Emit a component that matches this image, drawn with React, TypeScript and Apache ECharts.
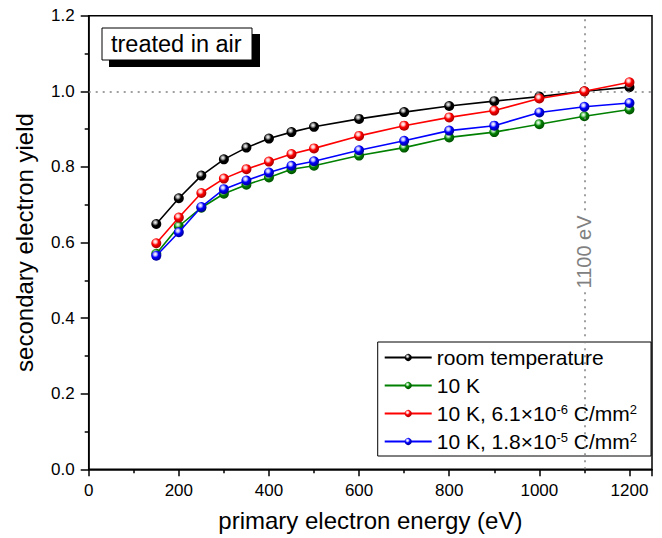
import React, { useEffect, useRef } from "react";
import * as echarts from "echarts";

const energies = [150, 200, 250, 300, 350, 400, 450, 500, 600, 700, 800, 900, 1000, 1100, 1200];
const roomTemp = [0.649, 0.717, 0.777, 0.820, 0.851, 0.875, 0.892, 0.906, 0.927, 0.945, 0.961, 0.974, 0.986, 1.000, 1.011];
const tenK = [0.570, 0.643, 0.692, 0.729, 0.753, 0.772, 0.794, 0.803, 0.830, 0.851, 0.878, 0.892, 0.913, 0.934, 0.952];
const tenKDose1 = [0.598, 0.666, 0.731, 0.769, 0.794, 0.814, 0.834, 0.849, 0.882, 0.909, 0.931, 0.949, 0.981, 1.000, 1.024];
const tenKDose2 = [0.565, 0.627, 0.694, 0.741, 0.764, 0.785, 0.803, 0.815, 0.844, 0.869, 0.896, 0.909, 0.944, 0.959, 0.969];

const seriesNames = ["room temperature", "10 K", "10 K, 6.1×10-6 C/mm2", "10 K, 1.8×10-5 C/mm2"];
const legendRich = [
  "{a|room temperature}",
  "{a|10 K}",
  "{a|10 K, 6.1×10}{s|-6}{a| C/mm}{s|2}",
  "{a|10 K, 1.8×10}{s|-5}{a| C/mm}{s|2}",
];
const seriesColors = ["#000000", "#008000", "#ff0000", "#0000ff"];
const seriesDark = ["#000000", "#005500", "#b00000", "#0000a0"];
const seriesLight = ["#aaaaaa", "#9fe09f", "#ffc0c0", "#c0c0ff"];
const seriesData = [roomTemp, tenK, tenKDose1, tenKDose2];

const FONT = "Liberation Sans, Arial, Helvetica, sans-serif";

export default function App() {
  const ref = useRef<HTMLDivElement>(null);
  useEffect(() => {
    if (!ref.current) return;
    const chart = echarts.init(ref.current, null, { renderer: "svg" });
    const series: any[] = seriesData.map((vals, i) => ({
      name: seriesNames[i],
      type: "line",
      data: energies.map((e, j) => [e, vals[j]]),
      symbol: "circle",
      symbolSize: 10,
      z: 3 + i,
      lineStyle: { color: seriesColors[i], width: 1.6 },
      itemStyle: {
        color: new echarts.graphic.RadialGradient(0.4, 0.35, 0.6, [
          { offset: 0, color: "#ffffff" },
          { offset: 0.25, color: seriesLight[i] },
          { offset: 0.55, color: seriesColors[i] },
          { offset: 1, color: seriesDark[i] },
        ]),
        borderWidth: 0,
      },
      emphasis: { disabled: true },
    }));
    series.push({
      name: "refs",
      type: "line",
      data: [],
      z: 1,
      silent: true,
      markLine: {
        silent: true,
        symbol: "none",
        label: { show: false },
        lineStyle: { color: "#808080", type: [2, 5], width: 1.5 },
        data: [{ yAxis: 1.0 }, { xAxis: 1100 }],
      },
      markPoint: {
        silent: true,
        symbol: "circle",
        symbolSize: 0,
        data: [{ coord: [1100, 0.575] }],
        label: {
          show: true,
          formatter: "1100 eV",
          rotate: 90,
          color: "#808080",
          fontFamily: FONT,
          fontSize: 20,
          backgroundColor: "#ffffff",
          padding: [0, 2],
        },
      },
    });

    chart.setOption({
      animation: false,
      textStyle: { fontFamily: FONT },
      grid: {
        left: 88.7,
        right: 10,
        top: 15.7,
        bottom: 68.7,
        show: true,
        borderColor: "#000",
        borderWidth: 1.5,
      },
      legend: {
        data: seriesNames,
        orient: "vertical",
        right: 11,
        bottom: 82,
        borderColor: "#000",
        borderWidth: 1,
        backgroundColor: "#fff",
        padding: [5, 14, 4, 6],
        itemWidth: 47,
        itemHeight: 9,
        itemGap: 7,
        selectedMode: false,
        textStyle: {
          fontFamily: FONT,
          fontSize: 21,
          color: "#000",
          rich: {
            a: { fontFamily: FONT, fontSize: 21, lineHeight: 21, color: "#000" },
            s: { fontFamily: FONT, fontSize: 13, lineHeight: 13, verticalAlign: "top", color: "#000" },
          },
        },
        formatter: (name: string) => legendRich[seriesNames.indexOf(name)],
      },
      xAxis: {
        type: "value",
        min: 0,
        max: 1250,
        interval: 200,
        name: "primary electron energy (eV)",
        nameLocation: "middle",
        nameGap: 39,
        nameTextStyle: { fontFamily: FONT, fontSize: 24, color: "#000" },
        axisLine: { lineStyle: { color: "#000", width: 1.5 } },
        axisTick: { show: true, inside: false, length: 7, lineStyle: { color: "#000", width: 1.5 } },
        minorTick: { show: true, splitNumber: 2, length: 4, lineStyle: { color: "#000", width: 1.5 } },
        splitLine: { show: false },
        axisLabel: {
          fontFamily: FONT,
          fontSize: 17,
          color: "#000",
          margin: 13,
          formatter: (v: number) => (v % 200 === 0 ? String(v) : ""),
        },
      },
      yAxis: {
        type: "value",
        min: 0,
        max: 1.2,
        interval: 0.2,
        name: "secondary electron yield",
        nameLocation: "middle",
        nameGap: 52,
        nameTextStyle: { fontFamily: FONT, fontSize: 24, color: "#000" },
        axisLine: { show: true, lineStyle: { color: "#000", width: 1.5 } },
        axisTick: { show: true, inside: false, length: 8, lineStyle: { color: "#000", width: 1.5 } },
        minorTick: { show: true, splitNumber: 2, length: 4, lineStyle: { color: "#000", width: 1.5 } },
        splitLine: { show: false },
        axisLabel: {
          fontFamily: FONT,
          fontSize: 17,
          color: "#000",
          margin: 14,
          formatter: (v: number) => v.toFixed(1),
        },
      },
      graphic: [
        { type: "rect", shape: { x: 109, y: 34, width: 151, height: 33 }, style: { fill: "#000" }, z: 10 },
        {
          type: "rect",
          shape: { x: 102, y: 28, width: 150, height: 32 },
          style: { fill: "#fff", stroke: "#000", lineWidth: 1 },
          z: 11,
        },
        {
          type: "text",
          x: 111,
          y: 44,
          z: 12,
          style: {
            text: "treated in air",
            fontFamily: FONT,
            fontSize: 23.5,
            fill: "#000",
            verticalAlign: "middle",
            align: "left",
          },
        },
      ],
      series,
    });
    return () => chart.dispose();
  }, []);
  return (
    <div
      ref={ref}
      style={{ position: "fixed", left: 0, top: 0, width: 662, height: 538, background: "#fff" }}
    />
  );
}
